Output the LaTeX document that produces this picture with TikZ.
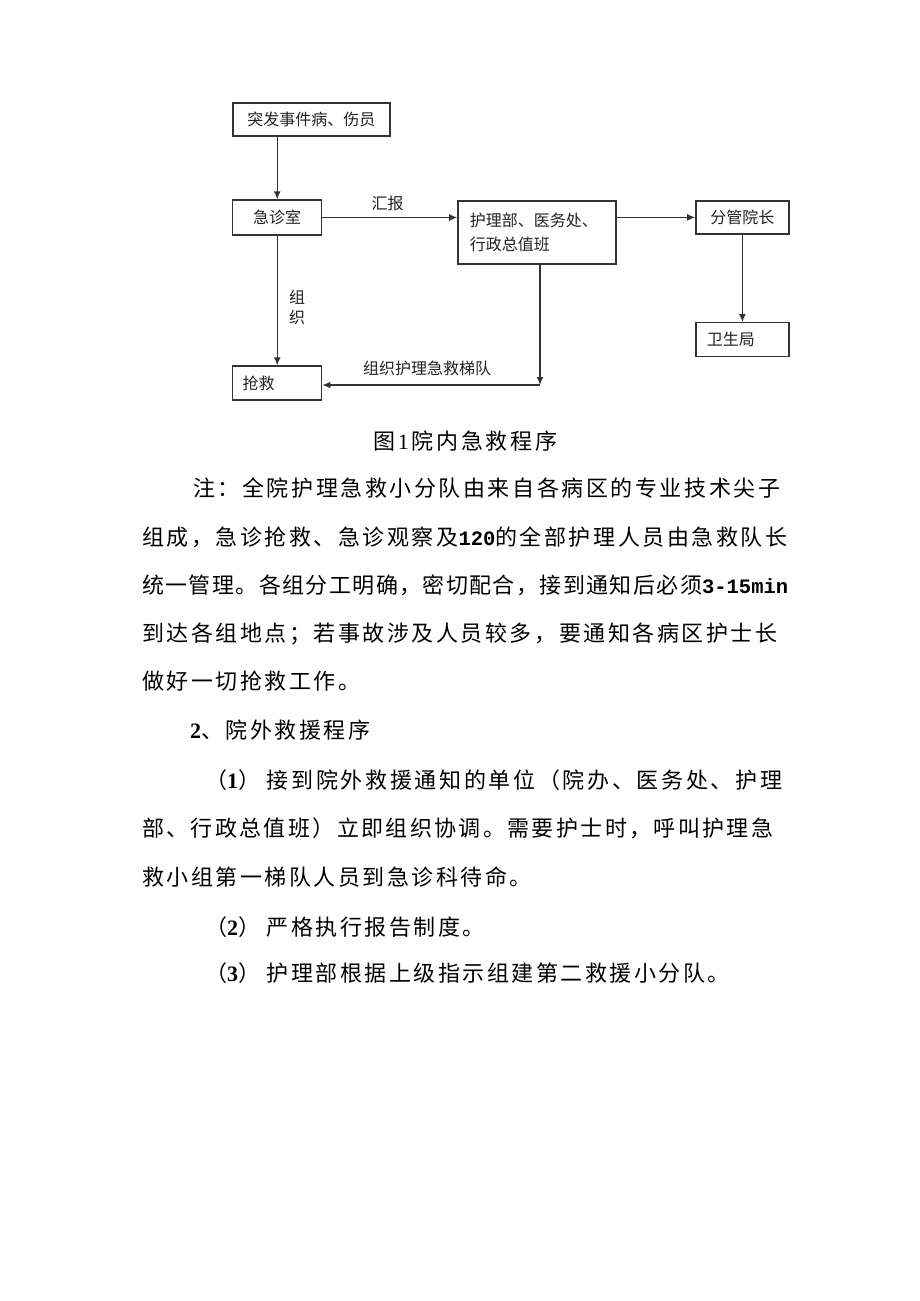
\documentclass[tikz,border=0pt]{standalone}
\usepackage{fontspec}
\setmainfont{Noto Sans CJK SC}
\newfontfamily\monob{Liberation Mono}
\newfontfamily\numf{Liberation Serif}
\usepackage{tikz}
\usetikzlibrary{arrows.meta}
\tikzset{>={Latex[width=7pt,length=8pt]}}
\definecolor{linegray}{HTML}{333333}
\definecolor{textgray}{HTML}{222222}
\newskip\charskip
\charskip=2.5pt plus 1fil minus 2.5pt
\newcommand{\JLINE}[2]{\makebox[#1pt][s]{#2}}
\newcommand{\NUM}[1]{{\numf\bfseries #1}}
\newcommand{\MONO}[1]{{\monob\fontsize{20.5}{24}\selectfont\bfseries #1}}
\newcommand{\SETSKIP}{\spaceskip=\charskip\relax}
\tikzset{
  box/.style={draw=linegray, line width=1.4pt, inner sep=0pt, text=textgray,
    font=\fontsize{16}{19}\selectfont},
  lbl/.style={inner sep=0pt, text=textgray, font=\fontsize{16}{19}\selectfont},
  txt/.style={anchor=base west, inner sep=0pt,
    font=\fontsize{22}{24}\selectfont, execute at begin node=\SETSKIP}
}

\begin{document}
\begin{tikzpicture}[x=1pt,y=-1pt]

  \fill[white] (0,0) rectangle (920,1301); %% page

  %% flow chart
  \node[box, minimum width=157pt, minimum height=33pt] (ev) at (311.4,119.4) {突发事件病、伤员};
  \node[box, minimum width=89pt, minimum height=35pt] (er) at (277.2,217.5) {急诊室};
  \node[box, minimum width=158pt, minimum height=63pt, text width=134pt, align=left,
    font=\fontsize{16}{24}\selectfont] (hl) at (536.9,232.4) {护理部、医务处、\\行政总值班};
  \node[box, minimum width=93pt, minimum height=33pt] (ld) at (742.4,217.4) {分管院长};
  \node[box, minimum width=93pt, minimum height=34pt, text width=71pt, align=left]
    (hb) at (742.4,339.7) {卫生局};
  \node[box, minimum width=89pt, minimum height=34pt, text width=69pt, align=left]
    (rs) at (277.2,383) {抢救};

  \coordinate (tc) at (540,385);

  \begin{scope}[draw=linegray, line width=1.4pt]
    \draw[->] (ev.south -| er.north) -- (er.north);
    \draw[->] (er.east) -- (er.east -| hl.west);
    \draw[->] (ld.west -| hl.east) -- (ld.west);
    \draw[->] (ld.south) -- (hb.north);
    \draw[->] (er.south) -- (rs.north);
    \draw[->] (hl.south -| tc) -- (tc);
    \draw[->] (tc) -- (tc -| rs.east);
  \end{scope}

  \node[lbl] (rp) at (387.5,203) {汇报};
  \node[lbl, align=center, font=\fontsize{16}{20}\selectfont] (zz) at (297,307) {组\\织};
  \node[lbl] (tm) at (427,368) {组织护理急救梯队};

  %% text below the chart
  \node[txt] (cap) at (373,449) {\JLINE{184}{图 {\numf 1} 院 内 急 救 程 序}};
  \node[txt] (n1) at (193,496) {\JLINE{587}{注 ： 全 院 护 理 急 救 小 分 队 由 来 自 各 病 区 的 专 业 技 术 尖 子}};
  \node[txt] (n2) at (142,545) {\JLINE{645}{组 成 ， 急 诊 抢 救 、 急 诊 观 察 及\MONO{120}的 全 部 护 理 人 员 由 急 救 队 长}};
  \node[txt] (n3) at (142,593) {\JLINE{646}{统 一 管 理 。 各 组 分 工 明 确 ， 密 切 配 合 ， 接 到 通 知 后 必 须\MONO{3-15min}}};
  \node[txt] (n4) at (142,641) {\JLINE{635}{到 达 各 组 地 点 ； 若 事 故 涉 及 人 员 较 多 ， 要 通 知 各 病 区 护 士 长}};
  \node[txt] (n5) at (142,689) {做 好 一 切 抢 救 工 作 。};

  \node[txt] (h2) at (190,738) {\NUM{2}、 院 外 救 援 程 序};
  \node[txt] (p1) at (205,788) {\JLINE{577}{（\NUM{1}）\hspace{4pt} 接 到 院 外 救 援 通 知 的 单 位 （ 院 办 、 医 务 处 、 护 理}};
  \node[txt] (p2) at (142,836) {\JLINE{631}{部 、 行 政 总 值 班 ） 立 即 组 织 协 调 。 需 要 护 士 时 ， 呼 叫 护 理 急}};
  \node[txt] (p3) at (142,885) {救 小 组 第 一 梯 队 人 员 到 急 诊 科 待 命 。};
  \node[txt] (p4) at (205,935) {（\NUM{2}）\hspace{4pt} 严 格 执 行 报 告 制 度 。};
  \node[txt] (p5) at (205,981) {（\NUM{3}）\hspace{4pt} 护 理 部 根 据 上 级 指 示 组 建 第 二 救 援 小 分 队 。};

  \useasboundingbox (0,0) rectangle (920,1301);

\end{tikzpicture}
\end{document}
